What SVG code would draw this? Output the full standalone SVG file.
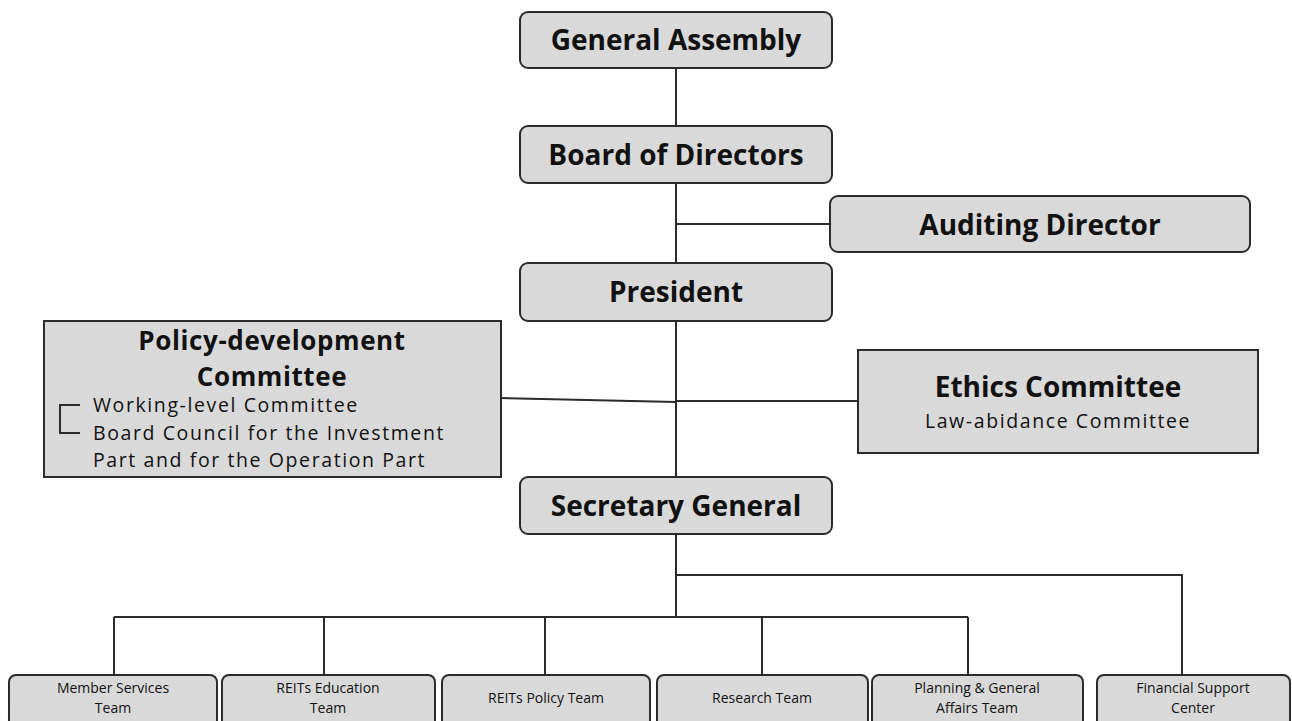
<svg xmlns="http://www.w3.org/2000/svg" width="1292" height="721" viewBox="0 0 1292 721">
<style>
.box{fill:#d9d9d9;stroke:#2b2b2b;stroke-width:2}
.ln{fill:none;stroke:#2b2b2b;stroke-width:2}
.t{font-family:"Open Sans","Noto Sans","Liberation Sans",sans-serif;fill:#111;text-anchor:middle}
.big{font-size:28px;font-weight:bold}
.pt{font-size:26px;font-weight:bold;letter-spacing:0.6px}
.mid{font-size:19.5px;letter-spacing:1.6px}
.sm{font-size:14px}
</style>
<rect width="1292" height="721" fill="#fff"/>
<g id="connectors">
<path class="ln" d="M676 68V126M676 183V263M676 224H830M676 321V477M501 398L676 402M676 401H858M676 534V617M114 617H968M114 617V675M324 617V675M545 617V675M762 617V675M968 617V675M676 575H1182V675"/>
</g>
<g id="general-assembly"><rect class="box" x="520" y="12" width="312" height="56" rx="8"/><text class="t big" x="676" y="50">General Assembly</text></g>
<g id="board"><rect class="box" x="520" y="126" width="312" height="57" rx="8"/><text class="t big" x="676" y="165">Board of Directors</text></g>
<g id="auditing"><rect class="box" x="830" y="196" width="420" height="56" rx="8"/><text class="t big" x="1040" y="235">Auditing Director</text></g>
<g id="president"><rect class="box" x="520" y="263" width="312" height="58" rx="8"/><text class="t big" x="676" y="302">President</text></g>
<g id="policy"><rect class="box" x="44" y="321" width="457" height="156"/>
<text class="t pt" x="272" y="350">Policy-development</text>
<text class="t pt" x="272" y="386">Committee</text>
<path class="ln" d="M80 405H60V433H80" stroke-width="1.5"/>
<text class="t mid" x="93" y="412" style="text-anchor:start">Working-level Committee</text>
<text class="t mid" x="93" y="440" style="text-anchor:start">Board Council for the Investment</text>
<text class="t mid" x="93" y="467" style="text-anchor:start">Part and for the Operation Part</text></g>
<g id="ethics"><rect class="box" x="858" y="350" width="400" height="103"/><text class="t big" x="1058" y="397">Ethics Committee</text><text class="t mid" x="1058" y="428">Law-abidance Committee</text></g>
<g id="secretary"><rect class="box" x="520" y="477" width="312" height="57" rx="8"/><text class="t big" x="676" y="516">Secretary General</text></g>
<g id="member"><rect class="box" x="9" y="675" width="208" height="56" rx="7"/><text class="t sm" x="113" y="693">Member Services</text><text class="t sm" x="113" y="713">Team</text></g>
<g id="education"><rect class="box" x="222" y="675" width="213" height="56" rx="7"/><text class="t sm" x="328" y="693">REITs Education</text><text class="t sm" x="328" y="713">Team</text></g>
<g id="reits-policy"><rect class="box" x="442" y="675" width="208" height="56" rx="7"/><text class="t sm" x="546" y="703">REITs Policy Team</text></g>
<g id="research"><rect class="box" x="657" y="675" width="211" height="56" rx="7"/><text class="t sm" x="762" y="703">Research Team</text></g>
<g id="planning"><rect class="box" x="872" y="675" width="211" height="56" rx="7"/><text class="t sm" x="977" y="693">Planning &amp; General</text><text class="t sm" x="977" y="713">Affairs Team</text></g>
<g id="financial"><rect class="box" x="1097" y="675" width="193" height="56" rx="7"/><text class="t sm" x="1193" y="693">Financial Support</text><text class="t sm" x="1193" y="713">Center</text></g>
</svg>
